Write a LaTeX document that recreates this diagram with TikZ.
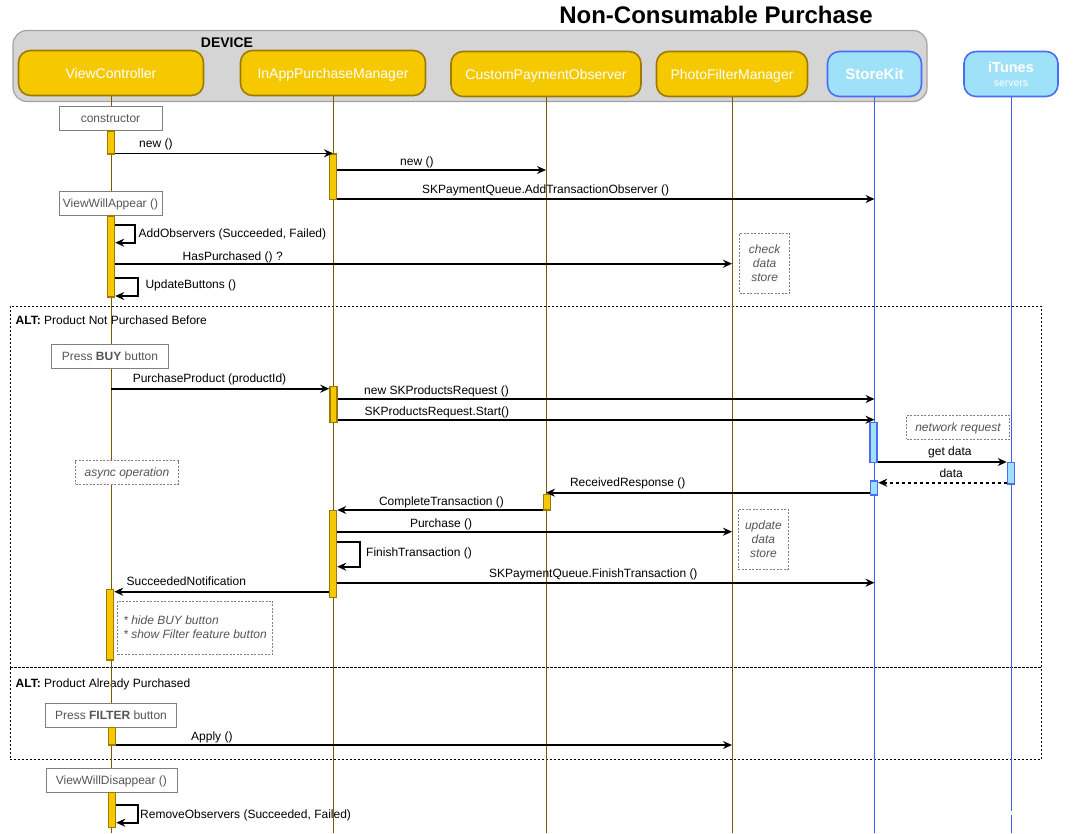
\documentclass[tikz,border=0pt]{standalone}
\usepackage{fontspec}
\setmainfont{Liberation Sans}
\usetikzlibrary{arrows.meta}

\definecolor{partyellow}{HTML}{F5C800}
\definecolor{partgold}{HTML}{A07A00}
\definecolor{lifebrown}{HTML}{7A5C00}
\definecolor{skblue}{HTML}{A0E1FA}
\definecolor{skborder}{HTML}{4A6CF7}
\definecolor{lifeblue}{HTML}{3D5CF2}
\definecolor{devgray}{HTML}{D5D5D5}
\definecolor{devborder}{HTML}{A3A3A3}
\definecolor{notegray}{HTML}{555555}

\tikzset{
  txt/.style={font=\fontsize{12}{14}\selectfont},
  partbox/.style={rounded corners=12pt, draw=partgold, fill=partyellow, line width=1.6pt,
    minimum height=45pt, inner sep=0pt, text=white, text depth=0pt,
    font=\fontsize{14}{16}\selectfont},
  skpart/.style={draw=skborder, fill=skblue, font=\fontsize{15}{16}\selectfont\bfseries},
  actbar/.style={draw=partgold, fill=partyellow, line width=1.5pt, minimum width=7pt, inner sep=0pt},
  skbar/.style={draw=skborder, fill=skblue},
  msg/.style={line width=1.6pt, -{Stealth[length=9pt,width=8pt,inset=3pt]}},
  lbl/.style={txt, anchor=base west, inner sep=0pt},
  callbox/.style={txt, draw=gray, fill=white, text=notegray, minimum height=24pt,
    inner sep=0pt, text depth=0pt},
  notebox/.style={txt, draw=gray, dash pattern=on 2pt off 1.5pt, fill=white, text=notegray,
    font=\fontsize{12}{14}\selectfont\itshape, inner sep=0pt, align=center},
  altbox/.style={draw, dash pattern=on 2pt off 2pt, line width=0.9pt, inner sep=0pt}
}

\begin{document}
\begin{tikzpicture}[x=1pt, y=-1pt, every node/.style={txt}]
  \useasboundingbox (0,0) rectangle (1073,833);

  % device frame and title
  \node[draw=devborder, fill=devgray, rounded corners=14pt, line width=1.2pt,
    minimum width=914pt, minimum height=71pt, inner sep=0pt] (device) at (470,66) {};
  \node[font=\fontsize{14}{16}\selectfont\bfseries] (devlbl) at (227,43) {DEVICE};
  \node[font=\fontsize{24}{28}\selectfont\bfseries] (title) at (716,15) {Non-Consumable Purchase};

  % alt frames
  \begin{scope}[every node/.style={altbox}]
    \node[minimum width=1031.5pt, minimum height=361pt] (alt1) at (526,486.5) {};
    \node[minimum width=1031.5pt, minimum height=92pt] (alt2) at (526,713) {};
  \end{scope}
  \node[lbl] (alt1lbl) at (15.5,324.3) {\textbf{ALT:} Product Not Purchased Before};
  \node[lbl] (alt2lbl) at (15.5,687) {\textbf{ALT:} Product Already Purchased};

  % participants
  \begin{scope}[every node/.style={partbox}]
    \node[minimum width=185pt] (vc) at (111,73) {ViewController};
    \node[minimum width=185pt] (iapm) at (333,73) {InAppPurchaseManager};
    \node[minimum width=190pt] (cpo) at (546,74) {CustomPaymentObserver};
    \node[minimum width=151pt] (pfm) at (732,74) {PhotoFilterManager};
    \node[skpart, minimum width=94pt] (sk) at (874.5,74) {StoreKit};
    \node[skpart, minimum width=94pt, align=center, font=\fontsize{14.5}{16}\selectfont\bfseries]
      (itunes) at (1011,74) {iTunes\\[-2pt]{\fontsize{10.5}{12}\selectfont\mdseries servers}};
  \end{scope}

  % lifelines
  \begin{scope}[line width=1pt]
    \draw[lifebrown] (vc.south) -- (vc |- 0,833);
    \draw[lifebrown] (iapm.south) -- (iapm |- 0,833);
    \draw[lifebrown] (cpo.south) -- (cpo |- 0,833);
    \draw[lifebrown] (pfm.south) -- (pfm |- 0,833);
    \draw[lifeblue] (sk.south) -- (sk |- 0,833);
    \draw[lifeblue] (itunes.south) -- (itunes |- 0,810.7);
    \draw[lifeblue] (itunes |- 0,815) -- (itunes |- 0,833);
  \end{scope}

  % calls and notes
  \begin{scope}[every node/.style={callbox}]
    \node[minimum width=103pt] (ctor) at (110.5,118.3) {constructor};
    \node[minimum width=103pt] (appear) at (110.5,203.3) {ViewWillAppear ()};
    \node[minimum width=117pt] (buy) at (110,356.2) {Press \textbf{BUY} button};
    \node[minimum width=131pt] (filter) at (111,715.3) {Press \textbf{FILTER} button};
    \node[minimum width=131pt] (disappear) at (111.4,780.3) {ViewWillDisappear ()};
  \end{scope}

  \begin{scope}[every node/.style={notebox}]
    \node[minimum width=50pt, minimum height=60pt] (check) at (764.6,263.3) {check\\data\\store};
    \node[minimum width=103pt, minimum height=23.7pt, text depth=0pt] (netreq) at (958,427.2) {network request};
    \node[minimum width=103pt, minimum height=23.3pt, text depth=0pt] (async) at (127,472.3) {async operation};
    \node[minimum width=50pt, minimum height=60pt] (update) at (763.4,539.3) {update\\data\\store};
    \node[minimum width=155pt, minimum height=53.6pt, align=left] (hide) at (195,627.5)
      {* hide BUY button\\* show Filter feature button};
  \end{scope}

  % activation bars
  \begin{scope}[every node/.style={actbar}]
    \node[minimum height=23.3pt] (vcb1) at (111,142.4) {};
    \node[minimum height=45.3pt] (iab1) at (333,176.7) {};
    \node[minimum height=81.3pt] (vcb2) at (111,256.4) {};
    \node[minimum height=35.6pt] (iab2) at (333.5,404.5) {};
    \node[skbar, minimum height=39.6pt] (skb1) at (873.3,442.5) {};
    \node[skbar, minimum height=21.7pt] (itb1) at (1011,473.2) {};
    \node[skbar, minimum height=14.3pt] (skb2) at (874,487.9) {};
    \node[minimum height=15.7pt] (cpb1) at (547,502.2) {};
    \node[minimum height=87pt] (iab3) at (333,554.2) {};
    \node[minimum height=70.7pt] (vcb3) at (110,624.7) {};
    \node[minimum height=17.7pt] (vcb4) at (112,736.2) {};
    \node[minimum height=35pt] (vcb5) at (112,809.8) {};
  \end{scope}

  % messages
  \draw[msg] (vcb1.east |- 0,153.3) -- (iab1.north);
  \draw[msg] (iab1.east |- 0,170) -- (cpo |- 0,170);
  \draw[msg] (iab1.east |- 0,199) -- (sk |- 0,199);
  \draw[msg] (vcb2.east |- 0,225) -- ++(20,0) -- ++(0,17.7) -- (vcb2.east |- 0,242.7);
  \draw[msg] (vcb2.east |- 0,263.7) -- (pfm |- 0,263.7);
  \draw[msg] (vcb2.east |- 0,277.7) -- ++(23,0) -- ++(0,18.3) -- (vcb2.east |- 0,296);
  \draw[msg] (vc |- 0,388.7) -- (iab2.west |- 0,388.7);
  \draw[msg] (iab2.east |- 0,399) -- (sk |- 0,399);
  \draw[msg] (iab2.east |- 0,419.7) -- (sk |- 0,419.7);
  \draw[msg] (skb1.east |- 0,462) -- (itb1.west |- 0,462);
  \draw[msg, dashed] (itb1.west |- 0,482.7) -- (skb2.east |- 0,482.7);
  \draw[msg] (skb2.west |- 0,492.7) -- (cpo |- 0,492.7);
  \draw[msg] (cpb1.west |- 0,510) -- (iab3.east |- 0,510);
  \draw[msg] (iab3.east |- 0,531.7) -- (pfm |- 0,531.7);
  \draw[msg] (iab3.east |- 0,541.7) -- ++(23,0) -- ++(0,25) -- (iab3.east |- 0,566.7);
  \draw[msg] (iab3.east |- 0,582.7) -- (sk |- 0,582.7);
  \draw[msg] (iab3.west |- 0,591.7) -- (vcb3.east |- 0,591.7);
  \draw[msg] (vcb4.east |- 0,745) -- (pfm |- 0,745);
  \draw[msg] (vcb5.east |- 0,805) -- ++(22,0) -- ++(0,17.7) -- (vcb5.east |- 0,822.7);

  % message labels
  \node[lbl] (l1) at (139,147.5) {new ()};
  \node[lbl] (l2) at (400,165.3) {new ()};
  \node[lbl] (l3) at (422,193.3) {SKPaymentQueue.AddTransactionObserver ()};
  \node[lbl] (l4) at (138.5,237) {AddObservers (Succeeded, Failed)};
  \node[lbl] (l5) at (182.5,260) {HasPurchased () ?};
  \node[lbl] (l6) at (145.3,288.6) {UpdateButtons ()};
  \node[lbl] (l7) at (132.6,382) {PurchaseProduct (productId)};
  \node[lbl] (l8) at (364,394.3) {new SKProductsRequest ()};
  \node[lbl] (l9) at (364.3,415.3) {SKProductsRequest.Start()};
  \node[lbl] (l10) at (928,455) {get data};
  \node[lbl] (l11) at (939.3,477.6) {data};
  \node[lbl] (l12) at (569.8,486) {ReceivedResponse ()};
  \node[lbl] (l13) at (378.8,505.3) {CompleteTransaction ()};
  \node[lbl] (l14) at (409.8,527) {Purchase ()};
  \node[lbl] (l15) at (366,556) {FinishTransaction ()};
  \node[lbl] (l16) at (489,577.6) {SKPaymentQueue.FinishTransaction ()};
  \node[lbl] (l17) at (126.4,585.3) {SucceededNotification};
  \node[lbl] (l18) at (191,740.3) {Apply ()};
  \node[lbl] (l19) at (140,818.3) {RemoveObservers (Succeeded, Failed)};
\end{tikzpicture}
\end{document}
